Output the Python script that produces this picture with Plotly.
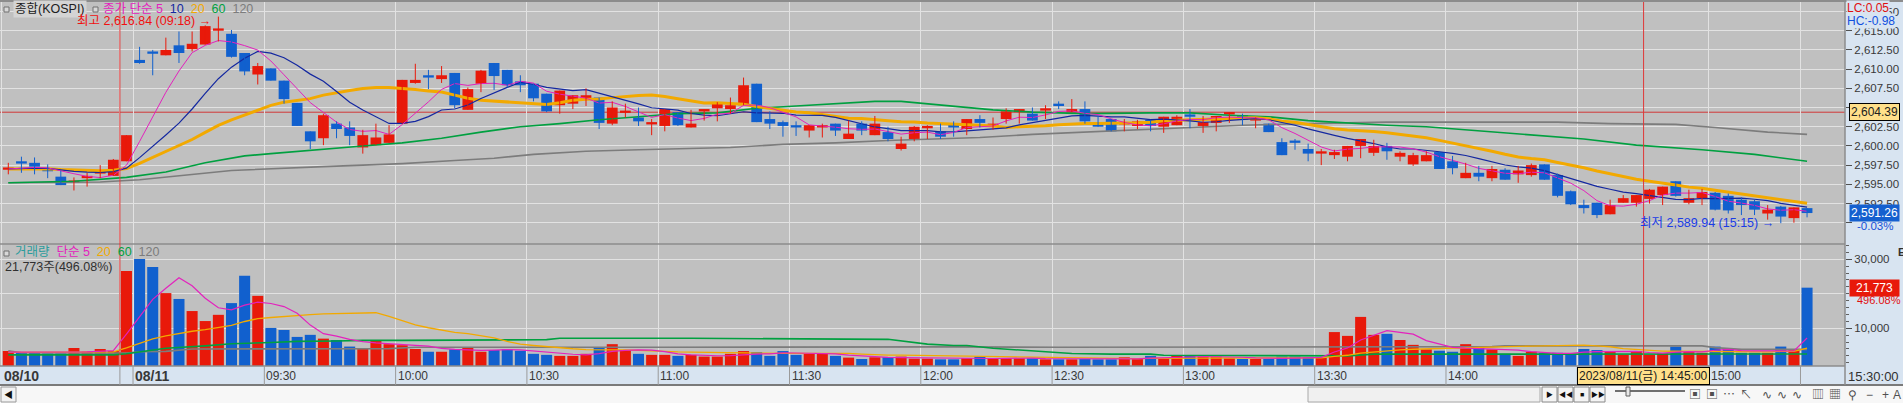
import pandas as pd
import plotly.graph_objects as go

W, H = 1903, 403

# ---- data: KOSPI 3-minute bars, 08/10 tail + 08/11 ----
bar_open = [
    2596.9, 2598.0, 2597.8, 2597.0, 2596.0, 2595.2, 2595.8, 2596.4, 2596.1, 2598.0,
    2611.2, 2612.1, 2611.8, 2613.1, 2612.6, 2613.2, 2615.0, 2614.6, 2612.1, 2609.3,
    2610.1, 2608.5, 2605.6, 2601.9, 2601.0, 2602.9, 2602.4, 2599.8, 2600.1, 2600.4,
    2602.9, 2608.2, 2609.1, 2608.7, 2609.5, 2604.7, 2608.1, 2610.8, 2609.9, 2608.4,
    2608.1, 2606.8, 2605.3, 2605.5, 2606.1, 2606.3, 2602.9, 2604.3, 2603.7, 2602.8,
    2602.6, 2604.4, 2602.4, 2604.5, 2604.9, 2604.8, 2605.3, 2608.1, 2603.5, 2603.1,
    2602.5, 2602.0, 2602.4, 2602.9, 2600.9, 2602.9, 2601.4, 2601.8, 2599.6, 2600.8,
    2602.3, 2601.9, 2602.9, 2602.2, 2603.5, 2602.5, 2603.5, 2604.4, 2604.2, 2604.6,
    2605.3, 2604.4, 2604.8, 2603.0, 2603.5, 2602.8, 2602.6, 2603.4, 2602.5, 2602.7,
    2603.9, 2602.6, 2603.0, 2604.1, 2604.0, 2603.3, 2602.9, 2600.5, 2600.5, 2599.6,
    2599.0, 2598.8, 2598.6, 2600.0, 2599.1, 2600.0, 2598.6, 2597.6, 2598.0, 2599.2,
    2598.0, 2595.8, 2596.5, 2595.8, 2596.9, 2596.3, 2596.2, 2597.6, 2596.2, 2594.1,
    2592.3, 2592.6, 2591.1, 2592.6, 2592.6, 2593.1, 2593.6, 2595.4, 2592.6, 2593.2,
    2593.9, 2593.5, 2593.0, 2592.8, 2591.2, 2592.1, 2590.6, 2591.9,
]
bar_high = [
    2597.8, 2598.6, 2598.5, 2597.6, 2596.8, 2595.9, 2596.5, 2597.5, 2598.3, 2601.4,
    2612.9, 2612.5, 2614.1, 2614.9, 2614.9, 2615.7, 2616.84, 2615.1, 2612.1, 2610.8,
    2610.1, 2608.5, 2605.6, 2601.9, 2604.2, 2603.2, 2603.2, 2602.1, 2602.9, 2602.7,
    2608.6, 2610.7, 2609.9, 2610.4, 2609.5, 2607.6, 2609.9, 2610.8, 2609.9, 2609.2,
    2608.1, 2606.8, 2607.2, 2606.6, 2607.5, 2606.3, 2605.8, 2605.5, 2605.0, 2603.5,
    2604.8, 2604.4, 2604.7, 2604.7, 2605.7, 2606.3, 2608.9, 2608.1, 2604.5, 2603.3,
    2603.2, 2602.7, 2602.9, 2602.9, 2603.3, 2603.2, 2603.9, 2602.5, 2601.2, 2602.6,
    2602.7, 2602.9, 2603.2, 2603.5, 2604.0, 2603.7, 2604.9, 2604.8, 2605.0, 2605.3,
    2605.8, 2606.1, 2605.8, 2603.9, 2603.5, 2603.5, 2603.4, 2603.4, 2603.8, 2604.0,
    2604.8, 2603.9, 2603.9, 2604.4, 2604.2, 2603.7, 2602.9, 2601.0, 2600.9, 2600.3,
    2599.6, 2599.5, 2600.0, 2600.9, 2600.8, 2600.4, 2599.3, 2599.1, 2599.3, 2599.3,
    2598.7, 2597.8, 2597.4, 2597.4, 2597.1, 2597.4, 2597.7, 2597.6, 2596.4, 2594.2,
    2593.0, 2592.6, 2593.0, 2593.6, 2593.6, 2594.4, 2594.7, 2595.4, 2594.3, 2594.4,
    2594.0, 2593.8, 2593.3, 2593.0, 2592.3, 2592.2, 2592.0, 2591.9,
]
bar_low = [
    2596.3, 2596.5, 2596.3, 2595.8, 2594.9, 2594.2, 2594.7, 2595.8, 2596.1, 2598.0,
    2610.7, 2609.2, 2611.8, 2610.8, 2612.3, 2613.2, 2613.6, 2611.5, 2609.2, 2608.0,
    2608.5, 2605.5, 2602.6, 2599.6, 2600.1, 2601.0, 2600.1, 2599.0, 2600.1, 2600.4,
    2602.9, 2608.1, 2607.4, 2608.2, 2604.9, 2604.7, 2607.0, 2607.3, 2607.6, 2607.0,
    2605.8, 2604.4, 2604.2, 2604.8, 2605.2, 2602.2, 2602.7, 2603.7, 2602.6, 2601.4,
    2601.9, 2602.6, 2602.4, 2603.3, 2603.2, 2604.2, 2605.3, 2603.1, 2602.2, 2601.2,
    2601.3, 2601.1, 2601.1, 2601.3, 2600.9, 2601.4, 2601.4, 2600.6, 2599.4, 2600.6,
    2600.9, 2600.9, 2601.2, 2601.4, 2602.4, 2602.1, 2602.9, 2602.9, 2603.3, 2603.5,
    2604.8, 2604.4, 2602.9, 2602.5, 2601.9, 2601.9, 2602.2, 2601.9, 2601.7, 2602.7,
    2602.3, 2601.7, 2601.9, 2603.0, 2602.7, 2602.3, 2601.8, 2598.8, 2599.5, 2598.0,
    2597.5, 2598.3, 2598.0, 2598.4, 2598.7, 2598.2, 2598.0, 2597.4, 2598.0, 2597.0,
    2596.3, 2595.8, 2595.4, 2595.4, 2595.6, 2595.2, 2596.0, 2595.6, 2593.3, 2592.3,
    2591.2, 2590.6, 2591.1, 2592.6, 2592.1, 2592.5, 2592.3, 2593.4, 2592.4, 2592.3,
    2591.6, 2591.2, 2591.0, 2591.0, 2590.4, 2589.94, 2590.0, 2590.7,
]
bar_close = [
    2597.0, 2597.7, 2597.3, 2596.7, 2594.9, 2595.3, 2596.0, 2596.5, 2598.2, 2601.4,
    2610.8, 2612.0, 2612.5, 2612.1, 2613.3, 2615.6, 2615.1, 2611.6, 2609.7, 2610.4,
    2608.5, 2606.1, 2602.6, 2600.6, 2604.0, 2602.2, 2601.3, 2601.4, 2601.1, 2601.5,
    2608.6, 2608.6, 2608.9, 2609.2, 2605.3, 2607.4, 2609.8, 2609.1, 2607.9, 2607.9,
    2606.2, 2604.5, 2607.2, 2606.6, 2606.6, 2603.0, 2605.0, 2604.5, 2603.2, 2602.9,
    2604.8, 2602.7, 2602.9, 2604.6, 2605.7, 2605.3, 2607.9, 2603.1, 2602.9, 2602.6,
    2602.4, 2602.7, 2602.5, 2602.0, 2601.6, 2602.0, 2602.9, 2600.9, 2600.3, 2602.5,
    2602.4, 2601.2, 2602.4, 2603.5, 2603.0, 2602.9, 2604.5, 2604.8, 2603.3, 2604.7,
    2605.2, 2604.8, 2603.2, 2602.5, 2601.9, 2602.9, 2603.2, 2602.6, 2603.8, 2603.8,
    2603.8, 2603.1, 2603.9, 2604.2, 2603.4, 2603.7, 2601.8, 2598.8, 2600.4, 2599.0,
    2599.3, 2599.2, 2600.0, 2600.9, 2600.0, 2599.3, 2599.1, 2598.8, 2598.8, 2597.0,
    2597.1, 2596.5, 2596.0, 2597.0, 2595.6, 2596.8, 2597.5, 2595.6, 2593.5, 2592.4,
    2591.9, 2591.0, 2592.3, 2593.2, 2593.6, 2594.3, 2594.7, 2593.5, 2593.2, 2594.0,
    2591.7, 2591.6, 2592.3, 2591.7, 2591.7, 2590.8, 2592.0, 2591.26,
]
bar_volume = [
    3420, 2940, 2940, 2740, 2740, 4290, 3230, 4000, 3420, 26600,
    30100, 27800, 20200, 18500, 15000, 12100, 13900, 17300, 25200, 19400,
    10100, 9500, 7500, 8100, 7000, 6600, 4700, 4200, 6400, 5400,
    5100, 4000, 3200, 3200, 3900, 4400, 3200, 3700, 3900, 3500,
    2600, 2300, 2000, 2000, 2600, 4400, 5400, 3700, 2600, 2300,
    2300, 2000, 2300, 1800, 1800, 2600, 3400, 3100, 2000, 3400,
    2300, 2600, 2600, 2000, 1500, 1100, 1600, 1600, 1800, 1200,
    1200, 1000, 1000, 1300, 1800, 1100, 1300, 1300, 1300, 1000,
    1000, 1000, 1100, 1000, 1000, 1600, 1100, 2000, 1300, 2000,
    2000, 1800, 1800, 1300, 1100, 1100, 1100, 1800, 1800, 1600,
    1500, 8900, 7800, 13300, 8100, 8400, 6600, 5200, 3900, 3500,
    3200, 5400, 4400, 3900, 2600, 2000, 3200, 2900, 2900, 2600,
    4000, 3700, 3200, 2300, 3400, 2300, 2700, 4700, 3200, 2900,
    4700, 4000, 2900, 2900, 2900, 4700, 3653, 21773,
]

# long averages at a few bars (their history is left of the window)
ma60_idx = [0, 5, 9, 12, 15, 18, 20, 24, 27, 30, 33, 36, 39, 42, 45, 48, 51, 54, 57, 60,
            63, 66, 68, 70, 72, 75, 78, 82, 87, 90, 93, 96, 99, 102, 105, 108, 111, 114,
            117, 120, 124, 129, 133, 137]
ma60_val = [2595.2, 2595.4, 2595.9, 2596.6, 2597.8, 2598.7, 2599.0, 2599.6, 2600.0, 2600.4,
            2601.0, 2601.8, 2602.5, 2602.9, 2603.4, 2603.8, 2604.2, 2604.3, 2604.9, 2605.2,
            2605.5, 2605.8, 2605.8, 2605.5, 2605.2, 2604.7, 2604.4, 2604.2, 2604.3, 2604.3,
            2604.0, 2603.8, 2603.3, 2603.0, 2602.7, 2602.5, 2602.1, 2601.7, 2601.3, 2600.9,
            2600.1, 2599.5, 2598.9, 2598.0]
ma120_idx = [0, 7, 10, 17, 24, 30, 34, 37, 40, 44, 48, 51, 55, 59, 63, 67, 71, 74, 78, 82,
             86, 90, 94, 99, 105, 114, 118, 122, 127, 130, 134, 137]
ma120_val = [2595.2, 2595.3, 2595.6, 2596.8, 2597.3, 2597.7, 2598.1, 2598.4, 2598.9, 2599.3,
             2599.5, 2599.6, 2599.8, 2600.2, 2600.4, 2600.7, 2600.9, 2601.1, 2601.5, 2601.8,
             2602.1, 2602.4, 2602.7, 2602.9, 2603.1, 2603.1, 2603.1, 2602.9, 2602.8, 2602.4,
             2601.8, 2601.5]
vol_ma60_idx = [0, 8, 9, 10, 12, 15, 17, 20, 22, 25, 27, 30, 36, 41, 42, 52, 67, 68, 69, 70,
                72, 73, 75, 77, 79, 81, 84, 87, 88, 93, 94, 102, 104, 137]
vol_ma60_val = [2300, 2300, 2600, 3200, 4200, 4900, 5500, 5900, 6200, 6300, 6500, 6500, 6600,
                6700, 7100, 7100, 6800, 6400, 5800, 5400, 5000, 5000, 4200, 3700, 3000, 2700,
                2500, 2500, 2200, 2200, 2000, 2000, 2500, 2550]
vol_ma120_idx = [0, 1, 9, 10, 12, 14, 29, 31, 50, 60, 72, 80, 94, 100, 113, 114, 129, 130,
                 132, 137]
vol_ma120_val = [3500, 2900, 2800, 3200, 3300, 4000, 4100, 4500, 4500, 4600, 4600, 4500, 4500,
                 4700, 4700, 4900, 4900, 4400, 3900, 3900]
# level of the short averages at the left edge (history before the first bar)
hist_close = 2597.0
hist_volume = 3000

# session times of the bars
days = ['08/10'] * 10 + ['08/11'] * 128
times = ['%02d:%02d' % divmod(m, 60) for m in range(14 * 60 + 54, 15 * 60 + 19, 3)] + ['15:30']
times += ['%02d:%02d' % divmod(m, 60) for m in range(9 * 60, 15 * 60 + 19, 3)] + ['15:30']
axis_times = ['09:30', '10:00', '10:30', '11:00', '11:30', '12:00', '12:30', '13:00',
              '13:30', '14:00', '14:30', '15:00']
cross_time = '14:45'
cross_price = 2604.39

price_ticks = [2590.0, 2592.5, 2595.0, 2597.5, 2600.0, 2602.5, 2605.0, 2607.5, 2610.0,
               2612.5, 2615.0, 2617.5]
price_hidden = [2590.0]
vol_ticks = [10000, 20000, 30000]
vol_hidden = [20000]

UP, DOWN = '#E8190A', '#1160CE'
C5, C10, C20, C60, C120 = '#E322BD', '#1428A0', '#F2A900', '#00A040', '#7C7C7C'
BG, GRID, AXBG = '#C0C0C0', '#E2E2E2', '#D8E4F1'
FONT = 'Liberation Sans, Arial, Noto Sans CJK KR, sans-serif'

n = len(bar_close)
k = list(range(n))
XL = 1845  # right edge of the chart panels, px


def px(x):
    return x / W


def py(y):
    return 1 - y / H


def sma(values, level, size):
    s = pd.Series([level] * (size - 1) + list(values), dtype=float)
    return s.rolling(size).mean().iloc[size - 1:].tolist()


ma5, ma10, ma20 = (sma(bar_close, hist_close, m) for m in (5, 10, 20))
vma5, vma20 = (sma(bar_volume, hist_volume, m) for m in (5, 20))
up = [c >= o for o, c in zip(bar_open, bar_close)]
colors = [UP if u else DOWN for u in up]

fig = go.Figure()


def line(x, y, color, width, axis='y'):
    fig.add_trace(go.Scatter(x=x, y=y, mode='lines', line=dict(color=color, width=width),
                             xaxis='x' if axis == 'y' else 'x2', yaxis=axis,
                             hoverinfo='skip', showlegend=False))


# price panel
line(ma120_idx, ma120_val, C120, 1.6)
line(ma60_idx, ma60_val, C60, 1.6)
line(k, ma20, C20, 3)
line(k, ma10, C10, 1.2)
line(k, ma5, C5, 1)
for flag, color in ((True, UP), (False, DOWN)):
    wx, wy = [], []
    for i in k:
        if up[i] == flag:
            wx += [i, i, None]
            wy += [bar_low[i], bar_high[i], None]
    line(wx, wy, color, 1)
fig.add_trace(go.Bar(
    x=k, base=[min(o, c) for o, c in zip(bar_open, bar_close)],
    y=[max(abs(c - o), 0.3) for o, c in zip(bar_open, bar_close)],
    width=0.82, marker=dict(color=colors, line=dict(width=0)),
    xaxis='x', yaxis='y', hoverinfo='skip', showlegend=False))

# volume panel
VMIN, VMAX = -930, 34430
fig.add_trace(go.Bar(
    x=k, base=VMIN, y=[v - VMIN for v in bar_volume], width=0.84,
    marker=dict(color=colors, line=dict(width=0)),
    xaxis='x2', yaxis='y2', hoverinfo='skip', showlegend=False))
line(vol_ma120_idx, vol_ma120_val, C120, 1.6, 'y2')
line(vol_ma60_idx, vol_ma60_val, C60, 1.6, 'y2')
line(k, vma20, C20, 1.3, 'y2')
line(k, vma5, C5, 1.2, 'y2')

# time axis positions: grid lines sit on the left edge of a bar
label_idx = [0, 10] + [10 + times[10:].index(t) for t in axis_times]
label_text = ['<b>08/10</b>', '<b>08/11</b>'] + axis_times
close_idx = [i for i in k if times[i] == '15:30']
grid_idx = sorted(label_idx + close_idx)
grid_x = [i - 0.5 for i in grid_idx]
cross_x = 10 + times[10:].index(cross_time) - 0.45

xax = dict(range=[-0.632, 139.89], domain=[0, px(XL)], tickmode='array', tickvals=grid_x,
           showticklabels=False, showgrid=True, gridcolor=GRID, gridwidth=1, zeroline=False,
           showline=False, ticks='')
tickfont = dict(family=FONT, size=11.5, color='#383838')
fig.update_layout(
    width=W, height=H, margin=dict(l=0, r=0, t=0, b=0),
    paper_bgcolor='#F7F7F7', plot_bgcolor=BG, showlegend=False, barmode='overlay',
    font=dict(family=FONT, size=12, color='#303030'),
    xaxis=dict(xax, anchor='y'),
    xaxis2=dict(xax, anchor='y2', matches='x'),
    yaxis=dict(domain=[py(244), py(2)], range=[2587.23, 2618.74], side='right', anchor='x',
               tickmode='array', tickvals=price_ticks,
               ticktext=['' if t in price_hidden else f'{t:,.2f}' for t in price_ticks],
               showgrid=True, gridcolor=GRID, zeroline=False, ticks='outside', ticklen=6,
               tickcolor='#505050', tickfont=tickfont),
    yaxis2=dict(domain=[py(366), py(244)], range=[VMIN, VMAX], side='right', anchor='x2',
                tickmode='array', tickvals=vol_ticks,
                ticktext=['' if t in vol_hidden else f'{t:,}' for t in vol_ticks],
                showgrid=True, gridcolor=GRID, zeroline=False, ticks='outside', ticklen=6,
                tickcolor='#505050', tickfont=tickfont,
                minor=dict(tickmode='array', tickvals=list(range(0, 34001, 2000)),
                           ticks='outside', ticklen=3, tickcolor='#606060', showgrid=False)),
)

shapes = [
    dict(type='rect', xref='paper', yref='paper', x0=px(XL), x1=1, y0=py(385), y1=1,
         fillcolor=AXBG, line_width=0, layer='below'),
    dict(type='rect', xref='paper', yref='paper', x0=0, x1=px(XL), y0=py(385), y1=py(366),
         fillcolor=AXBG, line_width=0, layer='below'),
]
for y0, y1, x0, x1, c, w in [(1, 1, 0, W, '#8C8C8C', 2), (244, 244, 0, XL, '#8C8C8C', 1.5),
                             (366, 366, 0, XL, '#8C8C8C', 1.5), (385, 385, 0, W, '#7A7A7A', 2),
                             (0, 385, XL, XL, '#8C8C8C', 1.5)]:
    shapes.append(dict(type='line', xref='paper', yref='paper', x0=px(x0), x1=px(x1),
                       y0=py(y0), y1=py(y1), line=dict(color=c, width=w)))
for gx in grid_x[1:]:
    shapes.append(dict(type='line', xref='x', yref='paper', x0=gx, x1=gx, y0=py(385),
                       y1=py(366), line=dict(color='#9A9A9A', width=1)))
# day separator and crosshair
for vx in (grid_x[1], cross_x):
    shapes.append(dict(type='line', xref='x', yref='paper', x0=vx, x1=vx, y0=py(366),
                       y1=py(2), line=dict(color='#E03838', width=1)))
shapes.append(dict(type='line', xref='paper', yref='y', x0=0, x1=px(XL), y0=cross_price,
                   y1=cross_price, line=dict(color='#D03838', width=1), layer='between'))
# legend boxes
for bx, by in ((4, 7), (93, 7), (4, 251)):
    shapes.append(dict(type='rect', xref='paper', yref='paper', x0=px(bx), x1=px(bx + 5),
                       y0=py(by + 5), y1=py(by), fillcolor='#D8D8D8',
                       line=dict(color='#707070', width=1)))
# bottom tool bar
shapes.append(dict(type='rect', xref='paper', yref='paper', x0=px(1), x1=px(16), y0=py(402),
                   y1=py(387), fillcolor='#F2F2F2', line=dict(color='#9A9A9A', width=1)))
shapes.append(dict(type='rect', xref='paper', yref='paper', x0=px(1308), x1=px(1540),
                   y0=py(402), y1=py(387), fillcolor='#F0F0F0', line=dict(color='#A8A8A8', width=1)))
for bx in (1542, 1558, 1574, 1590):
    shapes.append(dict(type='rect', xref='paper', yref='paper', x0=px(bx), x1=px(bx + 15),
                       y0=py(402), y1=py(387), fillcolor='#F4F4F4',
                       line=dict(color='#8A8A8A', width=1)))
shapes.append(dict(type='line', xref='paper', yref='paper', x0=px(1615), x1=px(1685),
                   y0=py(391), y1=py(391), line=dict(color='#707070', width=2)))
shapes.append(dict(type='rect', xref='paper', yref='paper', x0=px(1626), x1=px(1630),
                   y0=py(396), y1=py(387), fillcolor='#E8E8E8', line=dict(color='#606060', width=1)))
fig.update_layout(shapes=shapes)

ann = []


def text(x, y, s, color='#303030', size=12, anchor='left', **kw):
    d = dict(xref='paper', yref='paper', x=px(x), y=py(y), text=s, showarrow=False,
             xanchor=anchor, yanchor='middle', font=dict(family=FONT, size=size, color=color))
    d.update(kw)
    ann.append(d)


def span(s, color):
    return f'<span style="color:{color}">{s}</span>'


sp = '&nbsp;&nbsp;'
text(13, 9.5, '종합(KOSPI)', '#202020', 12.5, bgcolor='#D4D4D4', borderpad=1)
text(101, 8.5, span('종가 단순 5', C5) + sp + span('10', C10) + sp + span('20', C20) + sp
     + span('60', C60) + sp + span('120', C120), size=12.5)
text(13, 252, span('거래량', '#2A9C9C') + sp + span('단순 5', C5) + sp + span('20', C20) + sp
     + span('60', C60) + sp + span('120', C120), size=12.5)
last = n - 1
text(3, 266.5, f'{bar_volume[last]:,}주(496.08%)', '#303030', 12.5)

hi = bar_high.index(max(bar_high))
lo = bar_low.index(min(bar_low))
ann.append(dict(xref='x', yref='y', x=hi, y=bar_high[hi], xanchor='right', yanchor='middle',
                xshift=-5, yshift=-4, showarrow=False,
                text=f'최고 {bar_high[hi]:,.2f} ({times[hi]}) →',
                font=dict(family=FONT, size=12.5, color='#F01010')))
ann.append(dict(xref='x', yref='y', x=lo, y=bar_low[lo], xanchor='right', yanchor='middle',
                xshift=-5, showarrow=False,
                text=f'최저 {bar_low[lo]:,.2f} ({times[lo]}) →',
                font=dict(family=FONT, size=12.5, color='#1A3CE6')))

# right axis value boxes
text(1846, 8, 'LC:0.05', '#E01010', 12, bgcolor=AXBG, borderpad=0)
text(1846, 21, 'HC:-0.98', '#1050E0', 12, bgcolor=AXBG, borderpad=0)
box = dict(xref='paper', x=px(1849), xanchor='left', yanchor='middle', showarrow=False,
           width=47, align='right', borderpad=1)
ann.append(dict(box, yref='y', y=cross_price, text=f'{cross_price:,.2f}',
                bgcolor='#FFE08A', bordercolor='#000000', borderwidth=1,
                font=dict(family=FONT, size=12, color='#202020')))
ann.append(dict(box, yref='y', y=bar_close[last], text=f'{bar_close[last]:,.2f}',
                bgcolor='#1560CF', font=dict(family=FONT, size=12, color='#FFFFFF')))
ann.append(dict(box, yref='y2', y=bar_volume[last], text=f'{bar_volume[last]:,}',
                bgcolor='#E8190A', align='center',
                font=dict(family=FONT, size=12, color='#FFFFFF')))
ann.append(dict(xref='paper', yref='y', x=px(1855), y=bar_close[last], xanchor='left',
                yanchor='middle', yshift=-13, showarrow=False, text='-0.03%',
                font=dict(family=FONT, size=11.5, color='#1550D8')))
ann.append(dict(xref='paper', yref='y2', x=px(1855), y=bar_volume[last], xanchor='left',
                yanchor='middle', yshift=-12, showarrow=False, text='496.08%',
                font=dict(family=FONT, size=11, color='#E01010')))
text(1896, 252, '<b>E</b>', '#303030', 11)

# time labels
for i, s in zip(label_idx, label_text):
    ann.append(dict(xref='x', yref='paper', x=i - 0.5, y=py(376), xanchor='left',
                    yanchor='middle', xshift=0, showarrow=False, text=s,
                    font=dict(family=FONT, size=14 if '<b>' in s else 12, color='#383838')))
text(1846, 376, times[last] + ':00', '#303030', 13)
ann.append(dict(xref='x', yref='paper', x=cross_x, y=py(376), xanchor='center',
                yanchor='middle', showarrow=False,
                text=f'2023/{days[last]}(금) {cross_time}:00', bgcolor='#FFE08A',
                bordercolor='#000000', borderwidth=1, borderpad=1,
                font=dict(family=FONT, size=12, color='#202020')))

# tool bar glyphs
text(8.5, 394.5, '◀', '#101010', 9, anchor='center')
for gx, g in ((1549.5, '▶'), (1565.5, '◀◀'), (1581.5, '■'), (1597.5, '▶▶')):
    text(gx, 394.5, g, '#101010', 7, anchor='center')
for gx, g in ((1695, '▣'), (1712, '▣'), (1729, '⋯'), (1746, '↖'), (1767, '∿'), (1782, '∿'),
              (1797, '∿'), (1818, '▥'), (1835, '▦'), (1852, '⚲'), (1869, '−'), (1885, '+'),
              (1897, 'A')):
    text(gx, 394.5, g, '#505050', 12, anchor='center')

fig.update_layout(annotations=ann)
# the page body keeps its default 8px margin otherwise, which pushes the chart off the window
fig.write_html('out.html', config={'displayModeBar': False},
               post_script="document.body.style.margin='0px';")
